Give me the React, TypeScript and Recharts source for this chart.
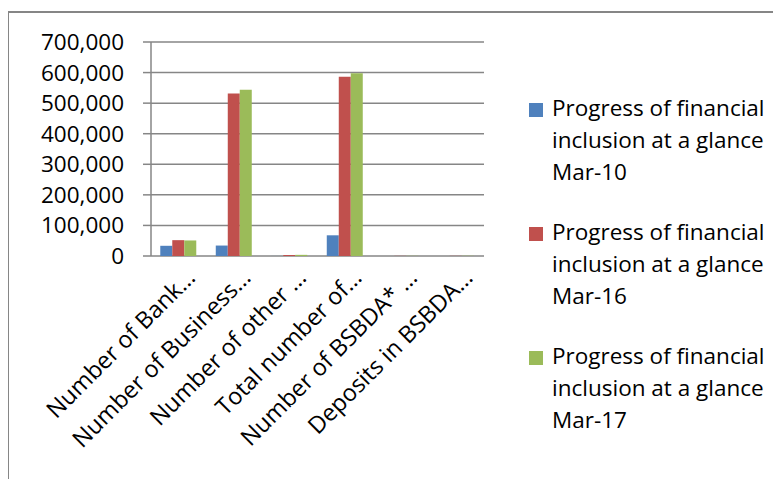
import React from 'react';
import { BarChart, Bar, XAxis, YAxis, CartesianGrid, Legend } from 'recharts';

// Category labels as they appear (truncated) on the axis
const categories = [
  'Number of Bank…',
  'Number of Business…',
  'Number of other …',
  'Total number of…',
  'Number of BSBDA* …',
  'Deposits in BSBDA…',
];

const mar10 = [33378, 34174, 142, 67694, 73, 55];
const mar16 = [51830, 531229, 3248, 586307, 469, 474];
const mar17 = [50860, 543472, 3761, 598093, 533, 691];

const seriesNames = [
  'Progress of financial inclusion at a glance Mar-10',
  'Progress of financial inclusion at a glance Mar-16',
  'Progress of financial inclusion at a glance Mar-17',
];

const yTicks = [0, 100000, 200000, 300000, 400000, 500000, 600000, 700000];
const boundaryTicks = [0, 1, 2, 3, 4, 5, 6];

const FONT = "'Open Sans', sans-serif";
const GRID = '#868686';

const chartData = categories.map((name, i) => ({
  name,
  idx: i,
  mar10: mar10[i],
  mar16: mar16[i],
  mar17: mar17[i],
}));

const XTick = ({ x, y, payload }: any) => (
  <g transform={`translate(${x + 18},${y + 23})`}>
    <text textAnchor="end" transform="rotate(-45)" fontFamily={FONT} fontSize={23.5} fill="#000">
      {payload.value}
    </text>
  </g>
);

const renderLegend = ({ payload }: any) => (
  <div style={{ fontFamily: FONT, fontSize: 22.5, lineHeight: '32px', color: '#000' }}>
    {(payload || []).map((entry: any, i: number) => (
      <div key={i} style={{ display: 'flex', alignItems: 'flex-start', marginTop: i ? 28 : 0 }}>
        <span
          style={{
            width: 14,
            height: 14,
            background: entry.color,
            marginTop: 11,
            marginRight: 9,
            flexShrink: 0,
          }}
        />
        <span style={{ width: 228 }}>{entry.value}</span>
      </div>
    ))}
  </div>
);

export default function App() {
  return (
    <div style={{ position: 'relative', width: 773, height: 471 }}>
      {/* chart frame: only top and left edges are visible */}
      <div
        style={{
          position: 'absolute',
          left: -1,
          top: 3,
          width: 772,
          height: 468,
          borderTop: `2px solid ${GRID}`,
          borderLeft: `2px solid ${GRID}`,
        }}
      />
      <BarChart
        width={773}
        height={471}
        data={chartData}
        margin={{ top: 34, right: 297, bottom: 0, left: 0 }}
        barCategoryGap="16.7%"
        barGap={0}
      >
        <CartesianGrid xAxisId="cat" vertical={false} stroke={GRID} strokeWidth={1.5} />
        <XAxis
          xAxisId="edge"
          type="number"
          dataKey="idx"
          domain={[0, 6]}
          ticks={boundaryTicks}
          tick={false}
          tickSize={7}
          height={0}
          axisLine={{ stroke: GRID, strokeWidth: 1.5 }}
          tickLine={{ stroke: GRID, strokeWidth: 1.5 }}
        />
        <XAxis
          xAxisId="cat"
          dataKey="name"
          interval={0}
          height={223}
          tickSize={0}
          tickMargin={0}
          axisLine={false}
          tickLine={false}
          tick={<XTick />}
        />
        <YAxis
          width={143}
          domain={[0, 700000]}
          ticks={yTicks}
          interval={0}
          tickSize={8}
          tickMargin={19}
          tickFormatter={(v) => v.toLocaleString('en-US')}
          tick={{ fill: '#000', fontSize: 22.5, fontFamily: FONT }}
          axisLine={{ stroke: GRID, strokeWidth: 1.5 }}
          tickLine={{ stroke: GRID, strokeWidth: 1.5 }}
        />
        <Legend
          layout="vertical"
          align="center"
          verticalAlign="middle"
          content={renderLegend}
          wrapperStyle={{ left: 521, top: 84, width: 252 }}
        />
        <Bar xAxisId="cat" dataKey="mar10" name={seriesNames[0]} fill="#4F81BD" isAnimationActive={false} />
        <Bar xAxisId="cat" dataKey="mar16" name={seriesNames[1]} fill="#C0504D" isAnimationActive={false} />
        <Bar xAxisId="cat" dataKey="mar17" name={seriesNames[2]} fill="#9BBB59" isAnimationActive={false} />
      </BarChart>
    </div>
  );
}
